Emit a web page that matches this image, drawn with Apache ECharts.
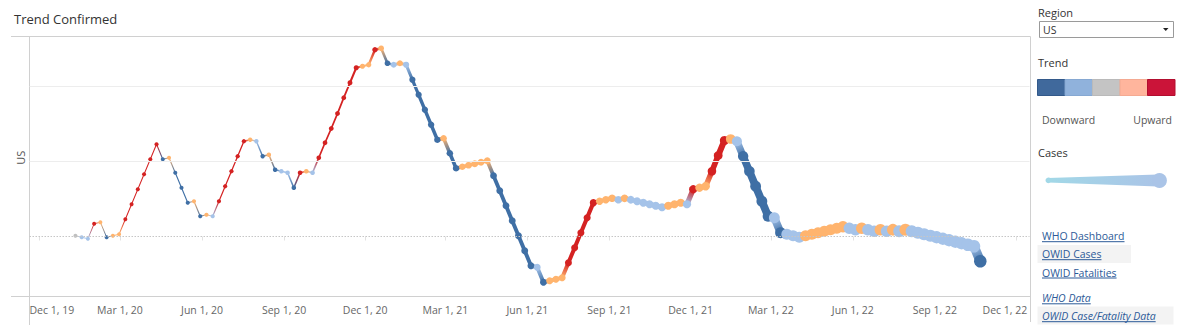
<!DOCTYPE html>
<html>
<head>
<meta charset="utf-8">
<title>Trend Confirmed</title>
<script src="https://cdn.jsdelivr.net/npm/echarts@6/dist/echarts.min.js"></script>
<style>
  html, body { margin: 0; padding: 0; background: #ffffff; }
  #chart { width: 1186px; height: 334px; }
</style>
</head>
<body>
<div id="chart"></div>
<script>
// ---- Data -------------------------------------------------------------
// Weekly observations for the US, first week ending Saturday 11 Jan 2020.
const FIRST_WEEK = [2020, 0, 11];

// Trend score per week (dotted reference line sits at 0).
const trendValues = [
  // 2020
  0.01, -0.01, -0.03, 0.17, 0.19, -0.01, 0.01, 0.03, 0.23, 0.43,
  0.63, 0.83, 1.03, 1.23, 1.03, 1.05, 0.85, 0.65, 0.45, 0.47,
  0.27, 0.29, 0.27, 0.47, 0.67, 0.87, 1.07, 1.27, 1.29, 1.27,
  1.07, 1.09, 0.89, 0.87, 0.85, 0.65, 0.85, 0.87, 0.85, 1.05,
  1.25, 1.44, 1.64, 1.85, 2.05, 2.25, 2.27, 2.29, 2.49, 2.51,
  2.31,
  // 2021
  2.29, 2.31, 2.29, 2.09, 1.89, 1.69, 1.49, 1.29, 1.31, 1.11,
  0.91, 0.93, 0.95, 0.97, 0.99, 1.01, 0.81, 0.61, 0.41, 0.21,
  0.01, -0.19, -0.39, -0.41, -0.61, -0.59, -0.57, -0.55, -0.35, -0.15,
  0.05, 0.25, 0.45, 0.47, 0.49, 0.51, 0.49, 0.51, 0.49, 0.47,
  0.45, 0.43, 0.41, 0.39, 0.41, 0.43, 0.45, 0.43, 0.63, 0.65,
  0.67, 0.87,
  // 2022
  1.08, 1.28, 1.30, 1.27, 1.07, 0.87, 0.67, 0.47, 0.27, 0.25,
  0.05, 0.03, 0.01, -0.01, 0.01, 0.03, 0.05, 0.07, 0.09, 0.11,
  0.13, 0.11, 0.09, 0.11, 0.09, 0.07, 0.09, 0.07, 0.09, 0.07,
  0.09, 0.07, 0.05, 0.03, 0.01, -0.01, -0.03, -0.05, -0.07, -0.09,
  -0.11, -0.13, -0.33
];

// Trend class per week: -2 strong downward ... 0 flat ... 2 strong upward.
const trendClass = [
  // 2020
  0, -1, -1, 2, 1, -2, 1, 1, 2, 2,
  2, 2, 2, 2, -2, 1, -2, -2, -2, 1,
  -2, 1, -1, 2, 2, 2, 2, 2, 1, -1,
  -2, 1, -2, -1, -1, -2, 2, 1, -1, 2,
  2, 2, 2, 2, 2, 2, 1, 1, 2, 1,
  -2,
  // 2021
  -1, 1, -1, -2, -2, -2, -2, -2, 1, -2,
  -2, 1, 1, 1, 1, 1, -2, -2, -2, -2,
  -2, -2, -2, -1, -2, 1, 1, 1, 2, 2,
  2, 2, 2, 1, 1, 1, -1, 1, -1, -1,
  -1, -1, -1, -1, 1, 1, 1, -1, 2, 1,
  1, 2,
  // 2022
  2, 2, 1, -1, -2, -2, -2, -2, -2, -1,
  -2, -1, -1, -1, 1, 1, 1, 1, 1, 1,
  1, -1, -1, 1, -1, -1, 1, -1, 1, -1,
  1, -1, -1, -1, -1, -1, -1, -1, -1, -1,
  -1, -1, -2
];

// Cumulative confirmed cases (millions) per week, drives mark size.
const cumulativeCases = [
  // 2020
  0, 0, 0, 0, 0, 0, 0, 0.0001, 0.0004, 0.003,
  0.025, 0.12, 0.31, 0.53, 0.74, 0.94, 1.13, 1.31, 1.47, 1.62,
  1.77, 1.92, 2.07, 2.26, 2.5, 2.84, 3.24, 3.7, 4.17, 4.6,
  5.0, 5.36, 5.66, 5.96, 6.25, 6.5, 6.8, 7.1, 7.4, 7.7,
  8.1, 8.6, 9.2, 9.9, 10.9, 12.1, 13.2, 14.6, 16.1, 17.7,
  19.0,
  // 2021
  20.4, 22.2, 23.8, 25.0, 26.1, 27.0, 27.7, 28.2, 28.7, 29.1,
  29.5, 29.9, 30.3, 30.7, 31.2, 31.7, 32.1, 32.5, 32.8, 33.0,
  33.2, 33.3, 33.4, 33.5, 33.6, 33.7, 33.8, 33.9, 34.1, 34.5,
  35.0, 35.8, 36.7, 37.7, 38.7, 39.8, 40.8, 41.8, 42.6, 43.4,
  44.1, 44.7, 45.2, 45.8, 46.3, 46.8, 47.4, 47.9, 48.6, 49.5,
  50.4, 51.7,
  // 2022
  54.0, 58.6, 63.5, 68.8, 72.6, 75.2, 76.9, 77.9, 78.5, 78.9,
  79.2, 79.5, 79.7, 79.9, 80.1, 80.4, 80.7, 81.1, 81.6, 82.2,
  82.9, 83.6, 84.3, 85.1, 85.8, 86.5, 87.3, 88.1, 88.9, 89.8,
  90.6, 91.4, 92.1, 92.8, 93.4, 94.0, 94.5, 95.0, 95.4, 95.8,
  96.2, 96.5, 96.8
];

// Quarterly date ticks on the x axis.
const tickDates = [
  '2019-12-01', '2020-03-01', '2020-06-01', '2020-09-01', '2020-12-01',
  '2021-03-01', '2021-06-01', '2021-09-01', '2021-12-01',
  '2022-03-01', '2022-06-01', '2022-09-01', '2022-12-01'
];

const regionName = 'US';
const trendLegendLabels = ['Downward', 'Upward'];
const linkLabels = ['WHO Dashboard', 'OWID Cases', 'OWID Fatalities', 'WHO Data', 'OWID Case/Fatality Data'];

// ---- Styling ----------------------------------------------------------
const FONT = '"Open Sans", "Noto Sans", sans-serif';
const MONTHS = ['Jan', 'Feb', 'Mar', 'Apr', 'May', 'Jun', 'Jul', 'Aug', 'Sep', 'Oct', 'Nov', 'Dec'];

// Mark colours by trend class (-2..2).
const MARK_COLORS = { '-2': '#3f6fa5', '-1': '#a5c3e9', '0': '#bfbfbf', '1': '#ffb46e', '2': '#d42222' };
// Legend swatch colours, downward to upward.
const SWATCHES = [
  { fill: '#40699c', stroke: '#33598a' },
  { fill: '#90b2dc', stroke: '#86a8d2' },
  { fill: '#c4c4c4', stroke: '#bababa' },
  { fill: '#ffb59d', stroke: '#f4aa92' },
  { fill: '#cb1439', stroke: '#b20e2f' }
];

function parseDay(s) {
  const p = s.split('-').map(Number);
  return new Date(p[0], p[1] - 1, p[2]).getTime();
}
function weekDate(i) {
  return new Date(FIRST_WEEK[0], FIRST_WEEK[1], FIRST_WEEK[2] + 7 * i).getTime();
}
function fmtTick(t) {
  const d = new Date(t);
  return MONTHS[d.getMonth()] + ' ' + d.getDate() + ', ' + String(d.getFullYear()).slice(2);
}

const maxCases = Math.max.apply(null, cumulativeCases);
const markSize = c => 4 + 8.5 * c / maxCases;
const lineSize = c => 1 + 8.5 * c / maxCases;

const times = trendValues.map((_, i) => weekDate(i));
const points = trendValues.map((v, i) => [times[i], v, cumulativeCases[i]]);
const segments = [];
for (let i = 0; i < trendValues.length - 1; i++) {
  segments.push([times[i], trendValues[i], times[i + 1], trendValues[i + 1], i]);
}
const tickTimes = tickDates.map(parseDay);

// Axis window (timestamps on a linear axis)
const X_MIN = new Date(2019, 10, 20, 12).getTime();
const X_MAX = new Date(2022, 11, 16, 5).getTime();

// ---- Side panel helpers -------------------------------------------------
const measureCtx = document.createElement('canvas').getContext('2d');
function textWidth(str, size, style) {
  measureCtx.font = (style || 'normal') + ' ' + size + 'px ' + FONT;
  return measureCtx.measureText(str).width;
}
function label(text, x, y, opts) {
  opts = opts || {};
  return {
    type: 'text', x: x, y: y, silent: true,
    style: {
      text: text, fontSize: opts.size || 11, fontFamily: FONT,
      fontStyle: opts.italic ? 'italic' : 'normal',
      fill: opts.color || '#333333',
      align: opts.align || 'left', verticalAlign: 'middle'
    }
  };
}

const panel = [];
// Region selector
panel.push(label('Region', 1038, 12, { size: 11, color: '#333' }));
panel.push({ type: 'rect', shape: { x: 1039.5, y: 21.5, width: 134, height: 16 },
  style: { fill: '#ffffff', stroke: '#9a9a9a', lineWidth: 1 }, silent: true });
panel.push(label(regionName, 1043, 29.5, { size: 10.5, color: '#333' }));
panel.push({ type: 'polygon', shape: { points: [[1163, 28], [1168.5, 28], [1165.75, 31]] },
  style: { fill: '#222222' }, silent: true });

// Trend colour legend
panel.push(label('Trend', 1038, 62, { size: 11, color: '#333' }));
const swW = 137.5 / SWATCHES.length;
SWATCHES.forEach((s, k) => {
  panel.push({ type: 'rect', shape: { x: 1037.5 + k * swW, y: 79.5, width: swW, height: 16 },
    style: { fill: s.fill, stroke: s.stroke, lineWidth: 1 }, silent: true });
});
panel.push(label(trendLegendLabels[0], 1042, 119.5, { size: 10.5, color: '#555' }));
panel.push(label(trendLegendLabels[1], 1172, 119.5, { size: 10.5, color: '#555', align: 'right' }));

// Cases size legend (tapered stroke)
panel.push(label('Cases', 1038, 152.5, { size: 11, color: '#333' }));
panel.push({ type: 'polygon', silent: true,
  shape: { points: [[1048, 178], [1158, 174.5], [1158, 186.5], [1048, 182.5]] },
  style: { fill: new echarts.graphic.LinearGradient(0, 0, 1, 0, [
    { offset: 0, color: '#a2d8e7' }, { offset: 1, color: '#aac4e7' }]) } });
panel.push({ type: 'circle', shape: { cx: 1048.3, cy: 180.3, r: 2.8 }, style: { fill: '#a2d8e7' }, silent: true });
panel.push({ type: 'circle', shape: { cx: 1159.5, cy: 180.5, r: 7.4 }, style: { fill: '#aac4e7' }, silent: true });

// Links
const linkLayout = [
  { y: 236.2, italic: false, shade: false },
  { y: 254.2, italic: false, shade: [1037.5, 245, 93.5, 18] },
  { y: 272.5, italic: false, shade: false },
  { y: 298.3, italic: true, shade: false },
  { y: 316.2, italic: true, shade: [1037.5, 306.5, 136, 18] }
];
const LINK_COLOR = '#2c5a98';
linkLabels.forEach((t, k) => {
  const L = linkLayout[k];
  if (L.shade) {
    panel.push({ type: 'rect', shape: { x: L.shade[0], y: L.shade[1], width: L.shade[2], height: L.shade[3] },
      style: { fill: '#f3f3f3' }, silent: true });
  }
  panel.push(label(t, 1042, L.y, { size: 10.5, color: LINK_COLOR, italic: L.italic }));
  const w = textWidth(t, 10.5, L.italic ? 'italic' : 'normal');
  panel.push({ type: 'line', silent: true,
    shape: { x1: 1042, y1: L.y + 5.5, x2: 1042 + w, y2: L.y + 5.5 },
    style: { stroke: LINK_COLOR, lineWidth: 1 } });
});

// Chart frame
const FRAME = '#d0d0d0';
const frame = [
  { type: 'line', shape: { x1: 11, y1: 36.5, x2: 1030.5, y2: 36.5 }, style: { stroke: FRAME, lineWidth: 1 }, silent: true },
  { type: 'line', shape: { x1: 11, y1: 296.5, x2: 1030.5, y2: 296.5 }, style: { stroke: FRAME, lineWidth: 1 }, silent: true },
  { type: 'line', shape: { x1: 29.5, y1: 36.5, x2: 29.5, y2: 325 }, style: { stroke: FRAME, lineWidth: 1 }, silent: true },
  { type: 'line', shape: { x1: 1030.5, y1: 36.5, x2: 1030.5, y2: 322 }, style: { stroke: FRAME, lineWidth: 1 }, silent: true },
  {
    type: 'text', x: 20.3, y: 157.7, rotation: Math.PI / 2, silent: true,
    style: { text: regionName, fontSize: 11, fontFamily: FONT, fill: '#555555', align: 'center', verticalAlign: 'middle' }
  }
];

// ---- Chart ------------------------------------------------------------
const chart = echarts.init(document.getElementById('chart'), null, { renderer: 'svg' });

const LABEL_STYLE = { fontFamily: FONT, fontSize: 10.5, color: '#666666' };

chart.setOption({
  animation: false,
  backgroundColor: '#ffffff',
  title: {
    text: 'Trend Confirmed', left: 14, top: 10, padding: 0,
    textStyle: { fontFamily: FONT, fontSize: 13, fontWeight: 'normal', color: '#333333', lineHeight: 18 }
  },
  grid: { left: 29.5, right: 156.5, top: 36.5, bottom: 37.5, outerBoundsMode: 'none', containLabel: false },
  xAxis: {
    type: 'value', min: X_MIN, max: X_MAX,
    axisLine: { show: false },
    splitLine: { show: false },
    axisTick: { show: true, customValues: tickTimes, length: 4, lineStyle: { color: '#e2e2e2' } },
    axisLabel: Object.assign({
      customValues: tickTimes, margin: 8,
      formatter: function (val) {
        const s = fmtTick(val);
        if (val === tickTimes[0]) return '{first|' + s + '}';
        if (val === tickTimes[tickTimes.length - 1]) return '{last|' + s + '}';
        return '{mid|' + s + '}';
      },
      rich: {
        first: Object.assign({ padding: [0, 0, 0, 26] }, LABEL_STYLE),
        mid: Object.assign({}, LABEL_STYLE),
        last: Object.assign({ padding: [0, 22, 0, 0] }, LABEL_STYLE)
      }
    }, LABEL_STYLE)
  },
  yAxis: {
    type: 'value', min: -0.8, max: 2.6667,
    axisLine: { show: false }, axisTick: { show: false },
    axisLabel: { show: false }, splitLine: { show: false }
  },
  graphic: frame.concat(panel),
  series: [
    {
      // grid rules and the zero reference line
      type: 'line', data: [], silent: true, z: 1,
      markLine: {
        silent: true, symbol: 'none', label: { show: false }, animation: false,
        data: [
          { yAxis: 1, lineStyle: { color: '#ededed', type: 'solid', width: 1 } },
          { yAxis: 2, lineStyle: { color: '#ededed', type: 'solid', width: 1 } },
          { yAxis: 0, lineStyle: { color: '#c6c6c6', type: [1.5, 1.5], width: 1 } }
        ]
      }
    },
    {
      // trend path: each segment blends the colours of its two ends
      type: 'custom', z: 2, silent: true,
      data: segments,
      encode: { x: [0, 2], y: [1, 3] },
      renderItem: function (params, api) {
        const i = api.value(4);
        const a = api.coord([api.value(0), api.value(1)]);
        const b = api.coord([api.value(2), api.value(3)]);
        const c0 = MARK_COLORS[String(trendClass[i])];
        const c1 = MARK_COLORS[String(trendClass[i + 1])];
        const w = (lineSize(cumulativeCases[i]) + lineSize(cumulativeCases[i + 1])) / 2;
        return {
          type: 'line',
          shape: { x1: a[0], y1: a[1], x2: b[0], y2: b[1] },
          style: {
            stroke: new echarts.graphic.LinearGradient(a[0], a[1], b[0], b[1],
              [{ offset: 0, color: c0 }, { offset: 1, color: c1 }], true),
            lineWidth: w, lineCap: 'round'
          }
        };
      }
    },
    {
      type: 'scatter', z: 3, silent: true,
      data: points,
      symbol: 'circle',
      symbolSize: function (val) { return markSize(val[2]); },
      itemStyle: {
        opacity: 1,
        color: function (p) { return MARK_COLORS[String(trendClass[p.dataIndex])]; }
      }
    }
  ]
});
</script>
</body>
</html>
